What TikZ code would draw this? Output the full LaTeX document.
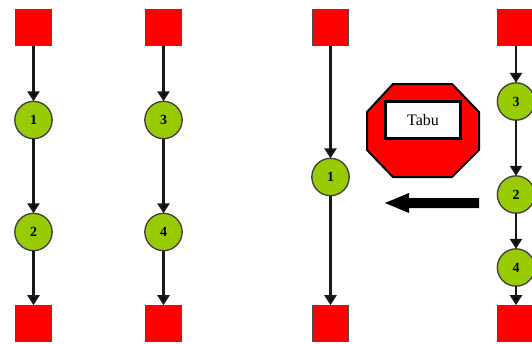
\documentclass[tikz,border=0pt]{standalone}
\usepackage{fontspec}
\setmainfont{Liberation Serif}
\usetikzlibrary{arrows.meta}
\definecolor{hubgreen}{RGB}{153,204,0}
\tikzset{
  x=0.75pt,y=-0.75pt,
  term/.style={draw=black!70,line width=0.8pt,fill=red,minimum size=27.5pt,inner sep=0pt,outer sep=0pt},
  hub/.style={circle,draw=black!75,line width=1pt,fill=hubgreen,minimum size=28pt,inner sep=0pt,outer sep=0pt,font=\bfseries\fontsize{10.5}{10.5}\selectfont},
  link/.style={draw=black!90,line width=1.8pt,-{Triangle[length=7.5pt,width=9pt,fill=black]}},
}
\begin{document}
\begin{tikzpicture}
\useasboundingbox (0,0) rectangle (532,343);
\clip (0,0) rectangle (532,343);
% first column
\node[term] (a0) at (33.5,27.5) {};
\node[hub] (a1) at (33.5,120) {1};
\node[hub] (a2) at (33.5,232) {2};
\node[term] (a3) at (33.5,323.5) {};
\draw[link] (a0) -- (a1);
\draw[link] (a1) -- (a2);
\draw[link] (a2) -- (a3);
% second column
\node[term] (b0) at (163.5,27.5) {};
\node[hub] (b1) at (163.5,120) {3};
\node[hub] (b2) at (163.5,232) {4};
\node[term] (b3) at (163.5,323.5) {};
\draw[link] (b0) -- (b1);
\draw[link] (b1) -- (b2);
\draw[link] (b2) -- (b3);
% third column
\node[term] (c0) at (330.5,27.5) {};
\node[hub] (c1) at (330.5,177) {1};
\node[term] (c3) at (330.5,323.5) {};
\draw[link] (c0) -- (c1);
\draw[link] (c1) -- (c3);
% fourth column
\node[term] (d0) at (516,27.5) {};
\node[hub] (d1) at (516,101.5) {3};
\node[hub] (d2) at (516,194.5) {2};
\node[hub] (d3) at (516,267.5) {4};
\node[term] (d4) at (516,323.5) {};
\draw[link] (d0) -- (d1);
\draw[link] (d1) -- (d2);
\draw[link] (d2) -- (d3);
\draw[link] (d3) -- (d4);
% tabu sign
\draw[draw=black,line width=1.5pt,fill=red,line join=miter]
  (393,84) -- (452,84) -- (479,112) -- (479,150) -- (452,177) -- (393,177) -- (367,150) -- (367,112) -- cycle;
\node[draw=black,line width=2.6pt,fill=white,minimum width=56pt,minimum height=27.5pt,inner sep=0pt,font=\fontsize{12}{12}\selectfont] (tabu) at (423,120) {Tabu};
% big arrow
\fill[black] (479,198) -- (409,198) -- (409,193) -- (385,203) -- (409,213) -- (409,208) -- (479,208) -- cycle;
\end{tikzpicture}
\end{document}
